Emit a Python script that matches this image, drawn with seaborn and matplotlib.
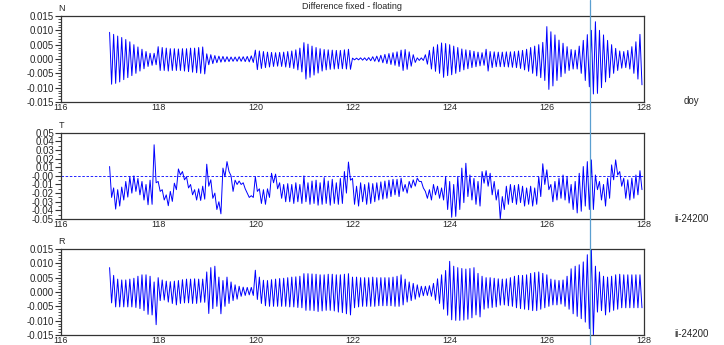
import numpy as np
import pandas as pd
import seaborn as sns
import matplotlib
matplotlib.use("Agg")
import matplotlib.pyplot as plt
from matplotlib.lines import Line2D
from matplotlib.ticker import MultipleLocator, FormatStrFormatter
import matplotlib.transforms as mtransforms

# ---- data (values in units of 1e-3), one row per day 117..127, 12 cycles/day ----
n_hi = [9.3, 8.6, 8.0, 7.5, 6.8, 6.0, 5.0, 4.2, 3.4, 2.6, 2.0, 2.0,
        4.3, 4.0, 3.8, 3.6, 3.6, 3.5, 3.6, 3.6, 3.8, 3.8, 4.0, 4.2,
        1.8, 1.5, 1.2, 1.0, 0.9, 0.8, 0.7, 0.7, 0.8, 0.8, 0.9, 1.1,
        3.1, 2.8, 2.6, 2.4, 2.3, 2.2, 2.3, 2.4, 2.6, 2.8, 3.2, 3.8,
        5.7, 5.2, 4.5, 4.0, 3.6, 3.3, 3.2, 3.1, 3.0, 3.0, 3.2, 3.4,
        0.3, 0.3, 0.4, 0.4, 0.5, 0.8, 1.0, 1.3, 1.6, 1.9, 2.2, 2.5,
        3.1, 3.3, 2.5, 1.5, 0.4, 0.4, 1.5, 3.0, 4.2, 5.0, 5.6, 5.4,
        5.0, 4.5, 4.0, 3.5, 3.2, 3.0, 2.7, 2.4, 2.2, 3.4, 2.6, 2.5,
        2.4, 2.4, 2.5, 2.5, 2.6, 2.8, 3.0, 3.4, 4.0, 4.5, 5.0, 5.8,
        11.3, 9.5, 8.4, 6.6, 5.5, 4.3, 3.3, 3.1, 4.5, 6.5, 8.5, 10.0,
        13.0, 10.0, 8.4, 6.5, 5.0, 3.7, 2.8, 2.6, 3.0, 4.3, 6.0, 8.6]
n_lo = [-8.8, -8.5, -8.0, -7.2, -6.5, -5.8, -5.0, -4.2, -3.4, -2.6, -2.2, -2.0,
        -4.0, -4.0, -4.2, -4.0, -4.0, -4.0, -4.2, -4.4, -4.6, -4.8, -5.0, -5.2,
        -2.0, -1.6, -1.3, -1.1, -1.0, -0.9, -0.8, -0.8, -0.8, -0.9, -1.0, -1.2,
        -3.7, -3.3, -3.0, -2.8, -2.6, -2.5, -2.6, -2.8, -3.0, -3.3, -3.8, -4.5,
        -7.0, -6.4, -5.6, -4.9, -4.2, -3.8, -3.6, -3.5, -3.4, -3.4, -3.5, -3.6,
        -0.3, -0.3, -0.4, -0.5, -0.6, -0.8, -1.0, -1.3, -1.6, -1.9, -2.2, -2.6,
        -4.0, -3.6, -2.5, -1.2, -0.5, -0.5, -1.8, -3.5, -4.3, -5.0, -6.4, -5.8,
        -5.5, -5.0, -4.4, -3.8, -3.4, -3.0, -2.7, -2.4, -2.2, -4.2, -3.0, -2.7,
        -2.7, -2.7, -2.8, -2.9, -3.0, -3.3, -3.8, -4.3, -5.0, -5.9, -6.5, -7.5,
        -10.6, -9.4, -7.5, -6.2, -5.0, -4.0, -3.5, -3.5, -5.0, -7.5, -9.7, -12.2,
        -12.0, -10.0, -8.0, -6.5, -5.0, -4.0, -3.2, -3.0, -3.5, -5.0, -7.0, -9.0]

t_hi = [10.8, -14, -16, -13, -6.5, -1, 0, -3, -6.5, -10, -5, 36,
        -6.5, -16, -22, -18, -8.5, 8, 5, -1, -10, -16, -15, -12,
        13.5, -4.6, -20, -30, 9, 16.5, 0, -5, -6, -8, -20, -23,
        -1, -15, -16, -15, 3, 2, -8, -10, -9, -10, -8, -10,
        0, -8, -6, -5, -8, -2, -6, -4, -8, -3, 5, 16,
        -3, -12, -8, -10, -8, -9, -8, -7, -6, -5, -4, -4,
        -2.7, -10, -6.5, -4.6, -2.7, -6.5, -18, -16, -10, -12, -14, -1,
        -6.5, -10, -1, 9, 14.6, 1, -3, -6.5, 5, 6, 3, -6.5,
        -16, -24, -12, -10, -11, -10, -12, -14, -12, -14, -1, 14,
        7, -10, -6.5, -2.7, 1, -1, -10, -6.5, 3, 10.8, 16.5, 18.5,
        1, -6.5, -10, -2.7, 12.7, 18.5, 5, -2.7, -4.6, -2.7, 1, 6]
t_lo = [-25, -38.5, -35, -28, -24.6, -20, -18, -22, -28, -33.5, -33, -8,
        -18, -28, -34.6, -29.6, -16, 1, -4.6, -14, -22, -28, -28.5, -27,
        -12, -26, -39, -44, -1, 5, -18, -10, -10, -15, -25, -25,
        -18, -32, -33, -25, -8, -15, -26, -30, -30, -32, -30, -32,
        -30, -33, -32, -34, -33, -32, -34, -32, -33, -32, -20, -5,
        -33, -35, -30, -33, -32, -30, -28, -27, -26, -24, -22, -24,
        -18, -20, -14, -12, -6.5, -14, -26, -28, -22, -26, -28, -39,
        -48, -47, -39, -31, -24, -28, -33, -35, -8.5, -12, -22, -28,
        -50, -39, -33, -31, -33, -31, -35, -33, -35, -33, -24, -10,
        -16, -30, -28, -26, -28, -31.5, -39, -43, -41, -35, -39, -39,
        -16, -28, -35, -26, -4.6, 1, -12, -26, -28, -26, -22, -16]

r_hi = [8.5, 5.8, 4.5, 4.2, 4.2, 4.5, 4.8, 5.5, 6.0, 6.0, 5.5, 3.5,
        5.0, 4.2, 3.8, 3.6, 3.8, 4.0, 4.3, 4.5, 4.5, 4.6, 4.5, 4.5,
        7.0, 8.5, 9.0, 5.2, 4.0, 5.2, 3.5, 2.5, 2.0, 1.7, 1.6, 1.6,
        7.6, 5.2, 4.1, 4.0, 4.3, 4.5, 4.7, 4.8, 5.0, 5.2, 5.3, 5.5,
        6.4, 6.4, 6.3, 6.2, 6.0, 6.0, 6.2, 6.2, 6.0, 6.0, 6.2, 6.4,
        5.2, 5.2, 5.0, 5.0, 5.0, 5.2, 5.0, 5.0, 5.0, 5.0, 5.2, 5.5,
        6.0, 4.5, 3.5, 3.0, 2.5, 2.0, 2.0, 2.2, 3.0, 4.6, 6.0, 7.5,
        10.7, 9.0, 8.5, 8.2, 8.0, 8.2, 8.5, 6.5, 5.5, 5.0, 5.0, 4.8,
        4.6, 4.5, 4.6, 5.0, 5.5, 5.8, 5.8, 6.0, 6.5, 6.8, 7.0, 6.5,
        6.0, 4.5, 4.2, 4.0, 4.2, 5.5, 8.1, 9.0, 9.5, 10.5, 13.0, 14.9,
        9.0, 7.0, 5.5, 5.2, 5.5, 6.0, 6.2, 6.0, 6.0, 6.0, 6.0, 6.0]
r_lo = [-3.8, -5.2, -5.2, -5.2, -5.2, -5.2, -5.4, -5.8, -6.5, -7.8, -8.0, -11.4,
        -3.0, -2.8, -3.5, -4.0, -4.5, -4.0, -3.8, -3.8, -4.0, -4.0, -3.6, -3.6,
        -7.5, -5.8, -5.0, -7.6, -5.0, -4.0, -3.0, -2.5, -1.5, -1.2, -1.0, -1.2,
        -2.6, -4.0, -4.8, -5.0, -5.0, -5.0, -5.0, -5.0, -5.2, -5.2, -5.4, -5.5,
        -6.4, -6.4, -6.5, -6.8, -6.6, -6.4, -6.4, -6.6, -7.0, -7.2, -7.6, -8.0,
        -5.5, -5.2, -5.0, -5.0, -5.0, -5.0, -4.8, -4.8, -4.8, -4.8, -5.0, -5.0,
        -4.5, -3.5, -3.0, -2.5, -1.8, -1.3, -1.2, -1.5, -2.8, -4.0, -6.0, -8.1,
        -9.7, -9.9, -9.9, -9.8, -9.5, -9.0, -8.0, -8.7, -6.0, -5.6, -5.4, -5.2,
        -4.6, -4.5, -4.8, -5.0, -5.5, -5.8, -6.0, -6.2, -6.5, -6.5, -6.0, -5.5,
        -5.0, -4.5, -4.5, -4.2, -5.0, -6.0, -7.6, -8.5, -9.3, -10.5, -12.8, -15.0,
        -7.0, -6.5, -8.0, -7.0, -6.4, -6.0, -5.5, -5.5, -5.5, -5.5, -5.5, -5.5]

first_day = 117
cycles_per_day = 12
cursor_doy = 126.88
xticks = [116, 118, 120, 122, 124, 126, 128]


def build_series(hi, lo):
    n = len(hi)
    t = first_day + np.arange(n) / cycles_per_day
    doy = np.empty(2 * n)
    val = np.empty(2 * n)
    doy[0::2] = t
    doy[1::2] = t + 0.5 / cycles_per_day
    val[0::2] = np.array(hi) / 1000.0
    val[1::2] = np.array(lo) / 1000.0
    return pd.DataFrame({"doy": doy, "value": val})


sns.set_style("white")
plt.rcParams["font.family"] = ["Liberation Sans", "DejaVu Sans"]
plt.rcParams["axes.unicode_minus"] = False

fig = plt.figure(figsize=(7.24, 3.45), dpi=100)
W, H = 724.0, 345.0
panels = [
    ("N", build_series(n_hi, n_lo), 16, 102, 0.015, 0.005, 0.001, "%.3f"),
    ("T", build_series(t_hi, t_lo), 132.7, 219, 0.05, 0.01, 0.005, "%.2f"),
    ("R", build_series(r_hi, r_lo), 249, 335, 0.015, 0.005, 0.001, "%.3f"),
]

axes = []
for name, df, ytop, ybot, lim, major, minor, fmt in panels:
    ax = fig.add_axes([61 / W, 1 - ybot / H, 583 / W, (ybot - ytop) / H])
    sns.lineplot(data=df, x="doy", y="value", ax=ax, color="#0000ff",
                 linewidth=0.7, estimator=None)
    ax.set_xlim(116, 128)
    ax.set_ylim(-lim, lim)
    ax.set_xticks(xticks)
    ax.set_xticklabels([str(v) for v in xticks])
    ax.yaxis.set_major_locator(MultipleLocator(major))
    ax.yaxis.set_minor_locator(MultipleLocator(minor))
    ax.yaxis.set_major_formatter(FormatStrFormatter(fmt))
    ax.tick_params(axis="y", which="major", length=4, width=0.8, labelsize=7,
                   pad=1, left=True, color="#333333")
    ax.tick_params(axis="y", which="minor", length=2, width=0.6, left=True,
                   color="#333333")
    ax.tick_params(axis="x", length=0, labelsize=6.5, pad=0.5)
    ax.set_xlabel("")
    ax.set_ylabel("")
    for sp in ax.spines.values():
        sp.set_color("#333333")
        sp.set_linewidth(0.9)
    ax.text(0, 1.03, name, transform=ax.transAxes, ha="center", va="bottom",
            fontsize=6.5)
    if name == "T":
        ax.axhline(0, color="#0000ff", linestyle=(0, (3, 2)), linewidth=0.6)
    axes.append(ax)

axes[0].set_title("Difference fixed - floating", fontsize=6.5, pad=5)

fig.text(691 / W, 1 - 101 / H, "doy", ha="center", va="center", fontsize=7)
fig.text(692 / W, 1 - 219 / H, "ii-24200", ha="center", va="center", fontsize=7)
fig.text(692 / W, 1 - 334 / H, "ii-24200", ha="center", va="center", fontsize=7)

trans = mtransforms.blended_transform_factory(axes[0].transData, fig.transFigure)
fig.add_artist(Line2D([cursor_doy, cursor_doy], [0, 1], transform=trans,
                      color="#5a9fd0", linewidth=0.9))

fig.savefig("out.png", dpi=100)
